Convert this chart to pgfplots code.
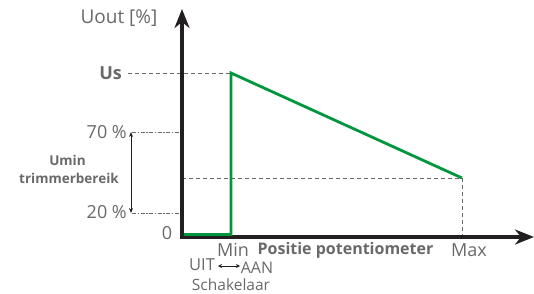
\documentclass[border=0pt]{standalone}
\usepackage{pgfplots}
\pgfplotsset{compat=1.18}
\usepackage{fontspec}
\setmainfont{Open Sans}
\usetikzlibrary{arrows.meta}
\definecolor{txt}{RGB}{105,105,105}
\definecolor{grn}{RGB}{0,150,62}
\definecolor{ax}{RGB}{35,31,32}
\newcommand{\fs}[1]{\fontsize{#1}{#1}\selectfont}
\begin{document}
\begin{tikzpicture}
\begin{axis}[
  scale only axis, width=534pt, height=293pt,
  xmin=-182, xmax=352, ymin=-56, ymax=237,
  hide axis, clip=false, anchor=south west, at={(0,0)},
]
% dashed helper lines
\addplot[txt, line width=1pt, dash pattern=on 4pt off 3pt] coordinates {(-54,164) (49,164)};
\addplot[txt, line width=1pt, dash pattern=on 4pt off 1.5pt on 1.5pt off 1.5pt] coordinates {(-50,105) (0,105)};
\addplot[txt, line width=1pt, dash pattern=on 4pt off 1.5pt on 1.5pt off 1.5pt] coordinates {(-50,24) (0,24)};
\addplot[txt, line width=1pt, dash pattern=on 4pt off 3pt] coordinates {(0,59) (280,59)};
\addplot[txt, line width=1pt, dash pattern=on 4pt off 3pt] coordinates {(280,59) (280,0)};
% double arrow
\addplot[ax, line width=0.9pt, {Stealth[length=5pt,width=4pt]}-{Stealth[length=5pt,width=4pt]}] coordinates {(-51,24) (-51,105)};
% axes
\addplot[ax, line width=3.8pt, -{Stealth[length=19pt,width=15pt,inset=6pt]}] coordinates {(0,-1.9) (0,228)};
\addplot[ax, line width=3.8pt, -{Stealth[length=19pt,width=15pt,inset=6pt]}] coordinates {(-1.9,0) (352,0)};
% characteristic
\addplot[grn, line width=2.8pt, line join=miter] coordinates {(1.9,2.5) (49,2.5) (49,164) (280,59)};
% labels
\begin{scope}[every node/.style={text=txt, font=\fs{18}, inner sep=0pt}]
\node[font=\fs{19}] at (axis cs:-63,219) {Uout [\%]};
\node[anchor=east] at (axis cs:-60,164) {\bfseries Us};
\node[anchor=east] at (axis cs:-55,105) {70 \%};
\node[anchor=east] at (axis cs:-55,25) {20 \%};
\node at (axis cs:-15,4) {0};
\node[font=\fs{13.5}\bfseries] at (axis cs:-114.5,77) {Umin};
\node[font=\fs{13.5}\bfseries] at (axis cs:-113,59) {trimmerbereik};
\node at (axis cs:51,-13) {Min};
\node[font=\fs{16}\bfseries] at (axis cs:163.5,-13) {Positie potentiometer};
\node at (axis cs:287,-13) {Max};
\node[font=\fs{16.5}] at (axis cs:20,-28) {UIT};
\node[font=\fs{16}] at (axis cs:75,-30.5) {AAN};
\node[font=\fs{15.5}] at (axis cs:49,-47.5) {Schakelaar};
\end{scope}
\addplot[ax, line width=0.9pt, {Stealth[length=4pt,width=4pt]}-{Stealth[length=4pt,width=4pt]}] coordinates {(36,-29) (58,-29)};
\end{axis}
\pgfresetboundingbox
\path (0,0) rectangle (534pt,293pt);
\end{tikzpicture}
\end{document}
